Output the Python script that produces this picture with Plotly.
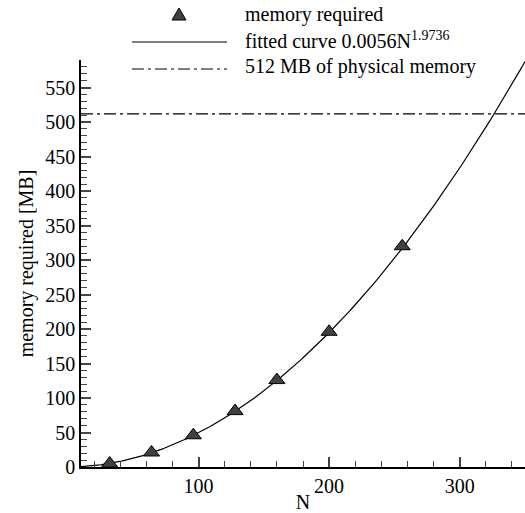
import numpy as np
import plotly.graph_objects as go

# ---- data ----
N_points = [32, 64, 96, 128, 160, 200, 256]
memory_mb = [5, 21, 46, 81, 126, 196, 320]
fit_a = 0.0056
fit_b = 1.9736
physical_memory_mb = 512
x_range = [10, 350]
y_range = [0, 590]

# fitted curve as given in the legend
N_curve = np.linspace(x_range[0], x_range[1], 300)
mem_curve = fit_a * N_curve ** fit_b

FONT = "Liberation Serif"
W, H = 525, 513
L, R, T, B = 81, 0, 60, 46
PW, PH = W - L - R, H - T - B


def px(x):
    return (x - L) / PW


def py(y):
    return (H - B - y) / PH


DASHDOT = "12px,4px,3px,4px"
MARKER_FILL = "#404040"

fig = go.Figure()
fig.add_trace(go.Scatter(x=N_curve, y=mem_curve, mode="lines",
                         line=dict(color="black", width=1.2),
                         showlegend=False, hoverinfo="skip"))
fig.add_trace(go.Scatter(x=x_range, y=[physical_memory_mb] * 2, mode="lines",
                         line=dict(color="black", width=1.2, dash=DASHDOT),
                         showlegend=False, hoverinfo="skip"))
fig.add_trace(go.Scatter(x=N_points, y=memory_mb, mode="markers",
                         marker=dict(symbol="triangle-up", size=14, color=MARKER_FILL,
                                     line=dict(color="black", width=1)),
                         showlegend=False))

shapes = [
    dict(type="path", xref="paper", yref="paper", xsizemode="pixel", ysizemode="pixel",
         xanchor=px(179), yanchor=py(15), path="M-7,-5 L7,-5 L0,7 Z",
         fillcolor=MARKER_FILL, line=dict(color="black", width=1)),
    dict(type="line", xref="paper", yref="paper", x0=px(132), x1=px(227), y0=py(42), y1=py(42),
         line=dict(color="black", width=1.2)),
    dict(type="line", xref="paper", yref="paper", x0=px(132), x1=px(227), y0=py(69), y1=py(69),
         line=dict(color="black", width=1.2, dash=DASHDOT)),
]
legend_texts = ["memory required", "fitted curve 0.0056N<sup>1.9736</sup>",
                "512 MB of physical memory"]
legend_y = [15, 40, 67]
annotations = [
    dict(text=t, x=px(243), y=py(yy), xref="paper", yref="paper", xanchor="left",
         yanchor="middle", showarrow=False, font=dict(family=FONT, size=20, color="black"))
    for t, yy in zip(legend_texts, legend_y)
]

fig.update_layout(
    width=W, height=H,
    margin=dict(l=L, r=R, t=T, b=B),
    paper_bgcolor="white", plot_bgcolor="white",
    font=dict(family=FONT, size=20, color="black"),
    shapes=shapes, annotations=annotations,
    xaxis=dict(range=x_range, tickvals=[100, 200, 300], ticks="inside", ticklen=10,
               tickwidth=1.5, showgrid=False, zeroline=False, showline=True,
               linecolor="black", linewidth=1.5,
               minor=dict(ticks="inside", ticklen=6, tickwidth=1.2, dtick=20, tick0=0,
                          showgrid=False),
               title=dict(text="N", standoff=0, font=dict(family=FONT, size=20)),
               tickfont=dict(family=FONT, size=20)),
    yaxis=dict(range=y_range, dtick=50, tick0=0, ticks="inside", ticklen=10,
               tickwidth=1.5, showgrid=False, zeroline=False, showline=True,
               linecolor="black", linewidth=1.5,
               minor=dict(ticks="inside", ticklen=6, tickwidth=1.2, dtick=10, tick0=0,
                          showgrid=False),
               title=dict(text="memory required [MB]", standoff=6,
                          font=dict(family=FONT, size=20)),
               tickfont=dict(family=FONT, size=20)),
)

fig.write_html("out.html", config={"displayModeBar": False},
               post_script="document.body.style.margin='0';document.body.style.overflow='hidden';")
